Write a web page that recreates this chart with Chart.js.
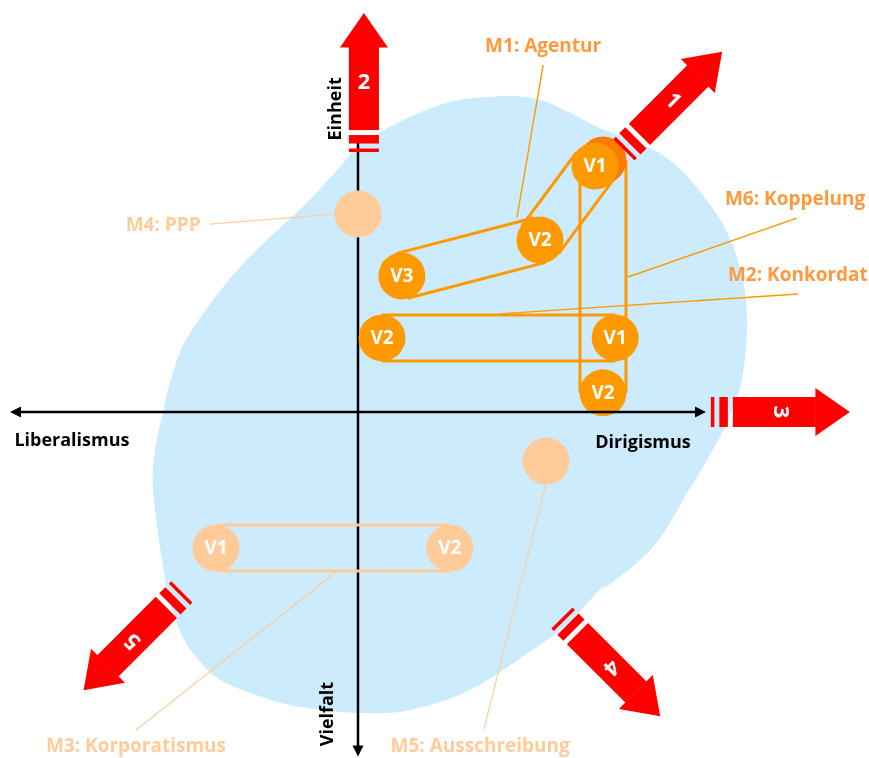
<!DOCTYPE html>
<html>
<head>
<meta charset="utf-8">
<script src="https://cdn.jsdelivr.net/npm/chart.js@4.4.1/dist/chart.umd.min.js"></script>
<style>
  html, body { margin: 0; padding: 0; background: #fff; }
  #wrap { width: 869px; height: 758px; }
</style>
</head>
<body>
<div id="wrap"><canvas id="myChart" width="869" height="758"></canvas></div>
<script>
// x: Liberalismus (-10) ... Dirigismus (+10), y: Vielfalt (-10) ... Einheit (+10)
const modelNames = ['M1: Agentur', 'M2: Konkordat', 'M3: Korporatismus', 'M4: PPP', 'M5: Ausschreibung', 'M6: Koppelung'];

const m1Variants = ['V1', 'V2', 'V3'];
const m1X = [6.81, 5.23, 1.26];
const m1Y = [7.07, 4.94, 3.91];

const m2Variants = ['V1', 'V2'];
const m2X = [7.39, 0.69];
const m2Y = [2.13, 2.13];

const m3Variants = ['V1', 'V2'];
const m3X = [-4.08, 2.64];
const m3Y = [-3.91, -3.91];

const m4Variants = [''];
const m4X = [0];
const m4Y = [5.69];

const m5Variants = [''];
const m5X = [5.40];
const m5Y = [-1.41];

const m6Variants = ['', 'V2'];
const m6X = [7.04, 7.04];
const m6Y = [7.24, 0.55];

const axisLabels = ['Liberalismus', 'Dirigismus', 'Einheit', 'Vielfalt'];
const arrowNumbers = ['1', '2', '3', '4', '5'];

// ---------- styles / layout ----------
const UNIT = 34.8;              // px per unit
const ORANGE = '#ff9900';
const ORANGE_TEXT = '#ff9a3c';
const PALE = '#ffcc99';
const RED = '#ff0000';
const BLUE = 'rgb(204,235,252)';
const FONT = '"Open Sans", "Noto Sans", sans-serif';
const R = 23.5;

function pts(xs, ys) {
  return xs.map((x, i) => ({ x: x, y: ys[i] }));
}

const datasets = [
  { label: modelNames[0], data: pts(m1X, m1Y), variants: m1Variants, backgroundColor: ORANGE, capsule: ORANGE, order: 0 },
  { label: modelNames[1], data: pts(m2X, m2Y), variants: m2Variants, backgroundColor: ORANGE, capsule: ORANGE, order: 1 },
  { label: modelNames[2], data: pts(m3X, m3Y), variants: m3Variants, backgroundColor: PALE, capsule: PALE, order: 2 },
  { label: modelNames[3], data: pts(m4X, m4Y), variants: m4Variants, backgroundColor: PALE, order: 3 },
  { label: modelNames[4], data: pts(m5X, m5Y), variants: m5Variants, backgroundColor: PALE, order: 4 },
  { label: modelNames[5], data: pts(m6X, m6Y), variants: m6Variants, backgroundColor: ['#ff7a00', ORANGE], capsule: ORANGE, order: 5 }
];
datasets.forEach(d => {
  d.pointRadius = R;
  d.pointHoverRadius = R;
  d.borderWidth = 0;
  d.pointBorderWidth = 0;
  d.clip = false;
});

// callouts: text position, line from, line to (units)
const callouts = [
  { text: modelNames[0], color: ORANGE_TEXT, line: ORANGE, at: [5.32, 10.49], from: [5.32, 9.97], to: [4.57, 5.60] },
  { text: modelNames[1], color: ORANGE_TEXT, line: ORANGE, at: [12.64, 3.91], from: [12.64, 3.39], to: [4.08, 2.82] },
  { text: modelNames[2], color: PALE, line: PALE, at: [-6.38, -9.62], from: [-0.63, -4.60], to: [-6.38, -9.14] },
  { text: modelNames[3], color: PALE, line: PALE, at: [-5.60, 5.37], from: [-4.25, 5.40], to: [-0.66, 5.69] },
  { text: modelNames[4], color: PALE, line: PALE, at: [3.51, -9.62], from: [5.40, -2.07], to: [3.62, -9.11] },
  { text: modelNames[5], color: ORANGE_TEXT, line: ORANGE, at: [12.56, 6.09], from: [12.61, 5.57], to: [7.76, 3.88] }
];

// development arrows: base point (units), direction in degrees
const arrows = [
  { base: [7.64, 7.53], angle: 45 },
  { base: [0.17, 7.47], angle: 90 },
  { base: [10.14, 0], angle: 0 },
  { base: [5.86, -5.92], angle: -45 },
  { base: [-5.06, -5.17], angle: -135 }
];

// light blue field outline (units)
const field = [
  [3.71, 9.05], [5.23, 8.97], [6.95, 8.16], [8.88, 7.30], [10.32, 5.66], [10.98, 4.14],
  [11.18, 2.64], [11.03, 0.92], [10.63, -0.23], [10.11, -1.24], [9.51, -2.24], [8.53, -3.82],
  [7.30, -4.91], [6.95, -5.11], [6.09, -6.03], [4.97, -6.87], [3.22, -7.99], [1.49, -8.56],
  [0.06, -8.65], [-1.67, -8.48], [-2.76, -8.19], [-3.91, -7.73], [-4.54, -7.18], [-5.03, -6.47],
  [-5.40, -5.49], [-5.63, -4.25], [-5.89, -2.24], [-5.83, -1.09], [-5.60, 0], [-5.34, 1.06],
  [-4.83, 2.27], [-3.39, 4.17], [-1.47, 6.01], [-0.52, 7.04], [0.26, 7.82], [2.16, 8.76]
];

function px(chart, p) {
  return [chart.scales.x.getPixelForValue(p[0]), chart.scales.y.getPixelForValue(p[1])];
}

function smoothClosed(ctx, p) {
  const n = p.length;
  ctx.moveTo(p[0][0], p[0][1]);
  for (let i = 0; i < n; i++) {
    const p0 = p[(i - 1 + n) % n], p1 = p[i], p2 = p[(i + 1) % n], p3 = p[(i + 2) % n];
    ctx.bezierCurveTo(
      p1[0] + (p2[0] - p0[0]) / 6, p1[1] + (p2[1] - p0[1]) / 6,
      p2[0] - (p3[0] - p1[0]) / 6, p2[1] - (p3[1] - p1[1]) / 6,
      p2[0], p2[1]);
  }
  ctx.closePath();
}

function arrowHead(ctx, x, y, dx, dy) {
  ctx.beginPath();
  ctx.moveTo(x, y);
  ctx.lineTo(x - dx * 11 - dy * 5.5, y - dy * 11 + dx * 5.5);
  ctx.lineTo(x - dx * 11 + dy * 5.5, y - dy * 11 - dx * 5.5);
  ctx.closePath();
  ctx.fill();
}

function drawArrow(ctx, x, y, angle, num) {
  ctx.save();
  ctx.translate(x, y);
  ctx.rotate(-angle * Math.PI / 180);
  ctx.fillStyle = RED;
  ctx.fillRect(0, -15, 3.5, 30);
  ctx.fillRect(8.5, -15, 8.5, 30);
  ctx.fillRect(22, -15, 83, 30);
  ctx.beginPath();
  ctx.moveTo(104.5, -24);
  ctx.lineTo(139, 0);
  ctx.lineTo(104.5, 24);
  ctx.closePath();
  ctx.fill();
  ctx.translate(70, 0);
  ctx.rotate(Math.PI / 2);
  ctx.fillStyle = '#fff';
  ctx.font = 'bold 22px ' + FONT;
  ctx.textAlign = 'center';
  ctx.textBaseline = 'middle';
  ctx.fillText(num, 0, 1);
  ctx.restore();
}

const diagramPlugin = {
  id: 'diagram',
  beforeDatasetsDraw(chart) {
    const ctx = chart.ctx;
    ctx.save();
    // field
    ctx.fillStyle = BLUE;
    ctx.beginPath();
    smoothClosed(ctx, field.map(p => px(chart, p)));
    ctx.fill();

    // vertical axis (Einheit - Vielfalt)
    const top = px(chart, [0, 7.73]);
    const bot = px(chart, [0, -9.9]);
    ctx.strokeStyle = '#000';
    ctx.fillStyle = '#000';
    ctx.lineWidth = 2.5;
    ctx.beginPath();
    ctx.moveTo(top[0], top[1]);
    ctx.lineTo(bot[0], bot[1] - 6);
    ctx.stroke();
    arrowHead(ctx, bot[0], bot[1], 0, 1);

    // capsules
    chart.data.datasets.forEach((ds, di) => {
      if (!ds.capsule) return;
      const meta = chart.getDatasetMeta(di);
      ctx.strokeStyle = ds.capsule;
      ctx.lineWidth = 3;
      for (let i = 0; i < meta.data.length - 1; i++) {
        const a = meta.data[i], b = meta.data[i + 1];
        const len = Math.hypot(b.x - a.x, b.y - a.y);
        const nx = -(b.y - a.y) / len * (R - 0.5), ny = (b.x - a.x) / len * (R - 0.5);
        [1, -1].forEach(s => {
          ctx.beginPath();
          ctx.moveTo(a.x + s * nx, a.y + s * ny);
          ctx.lineTo(b.x + s * nx, b.y + s * ny);
          ctx.stroke();
        });
      }
    });

    // callout lines
    callouts.forEach(c => {
      const f = px(chart, c.from), t = px(chart, c.to);
      ctx.strokeStyle = c.line;
      ctx.lineWidth = c.line === PALE ? 1.2 : 1.4;
      ctx.beginPath();
      ctx.moveTo(f[0], f[1]);
      ctx.lineTo(t[0], t[1]);
      ctx.stroke();
    });
    ctx.restore();
  },
  afterDatasetsDraw(chart) {
    const ctx = chart.ctx;
    ctx.save();
    // horizontal axis (Liberalismus - Dirigismus)
    const l = px(chart, [-10, 0]), r = px(chart, [10, 0]);
    ctx.strokeStyle = '#000';
    ctx.fillStyle = '#000';
    ctx.lineWidth = 2.5;
    ctx.beginPath();
    ctx.moveTo(l[0] + 6, l[1]);
    ctx.lineTo(r[0] - 6, r[1]);
    ctx.stroke();
    arrowHead(ctx, l[0], l[1], -1, 0);
    arrowHead(ctx, r[0], r[1], 1, 0);

    // variant labels
    ctx.font = 'bold 19px ' + FONT;
    ctx.textAlign = 'center';
    ctx.textBaseline = 'middle';
    ctx.fillStyle = '#fff';
    chart.data.datasets.forEach((ds, di) => {
      chart.getDatasetMeta(di).data.forEach((el, i) => {
        if (ds.variants[i]) ctx.fillText(ds.variants[i], el.x, el.y + 1);
      });
    });

    // callout texts
    callouts.forEach(c => {
      const p = px(chart, c.at);
      ctx.fillStyle = c.color;
      ctx.fillText(c.text, p[0], p[1]);
    });

    // axis labels
    ctx.fillStyle = '#000';
    ctx.font = 'bold 18px ' + FONT;
    let p = px(chart, [-8.22, -0.83]);
    ctx.fillText(axisLabels[0], p[0], p[1]);
    p = px(chart, [8.19, -0.89]);
    ctx.fillText(axisLabels[1], p[0], p[1]);
    [[axisLabels[2], [-0.63, 8.71]], [axisLabels[3], [-0.86, -8.68]]].forEach(([t, at]) => {
      const q = px(chart, at);
      ctx.save();
      ctx.translate(q[0], q[1]);
      ctx.rotate(-Math.PI / 2);
      ctx.fillText(t, 0, 0);
      ctx.restore();
    });

    // arrows 1-5
    arrows.forEach((a, i) => {
      const b = px(chart, a.base);
      drawArrow(ctx, b[0], b[1], a.angle, arrowNumbers[i]);
    });
    ctx.restore();
  }
};

const ctx = document.getElementById('myChart').getContext('2d');
new Chart(ctx, {
  type: 'scatter',
  data: { datasets: datasets },
  options: {
    responsive: false,
    animation: false,
    devicePixelRatio: 1,
    layout: { padding: 0, autoPadding: false },
    events: [],
    plugins: { legend: { display: false }, tooltip: { enabled: false } },
    scales: {
      x: { type: 'linear', display: false, min: -358 / UNIT, max: (869 - 358) / UNIT },
      y: { type: 'linear', display: false, min: -(758 - 412) / UNIT, max: 412 / UNIT }
    }
  },
  plugins: [diagramPlugin]
});
</script>
</body>
</html>
